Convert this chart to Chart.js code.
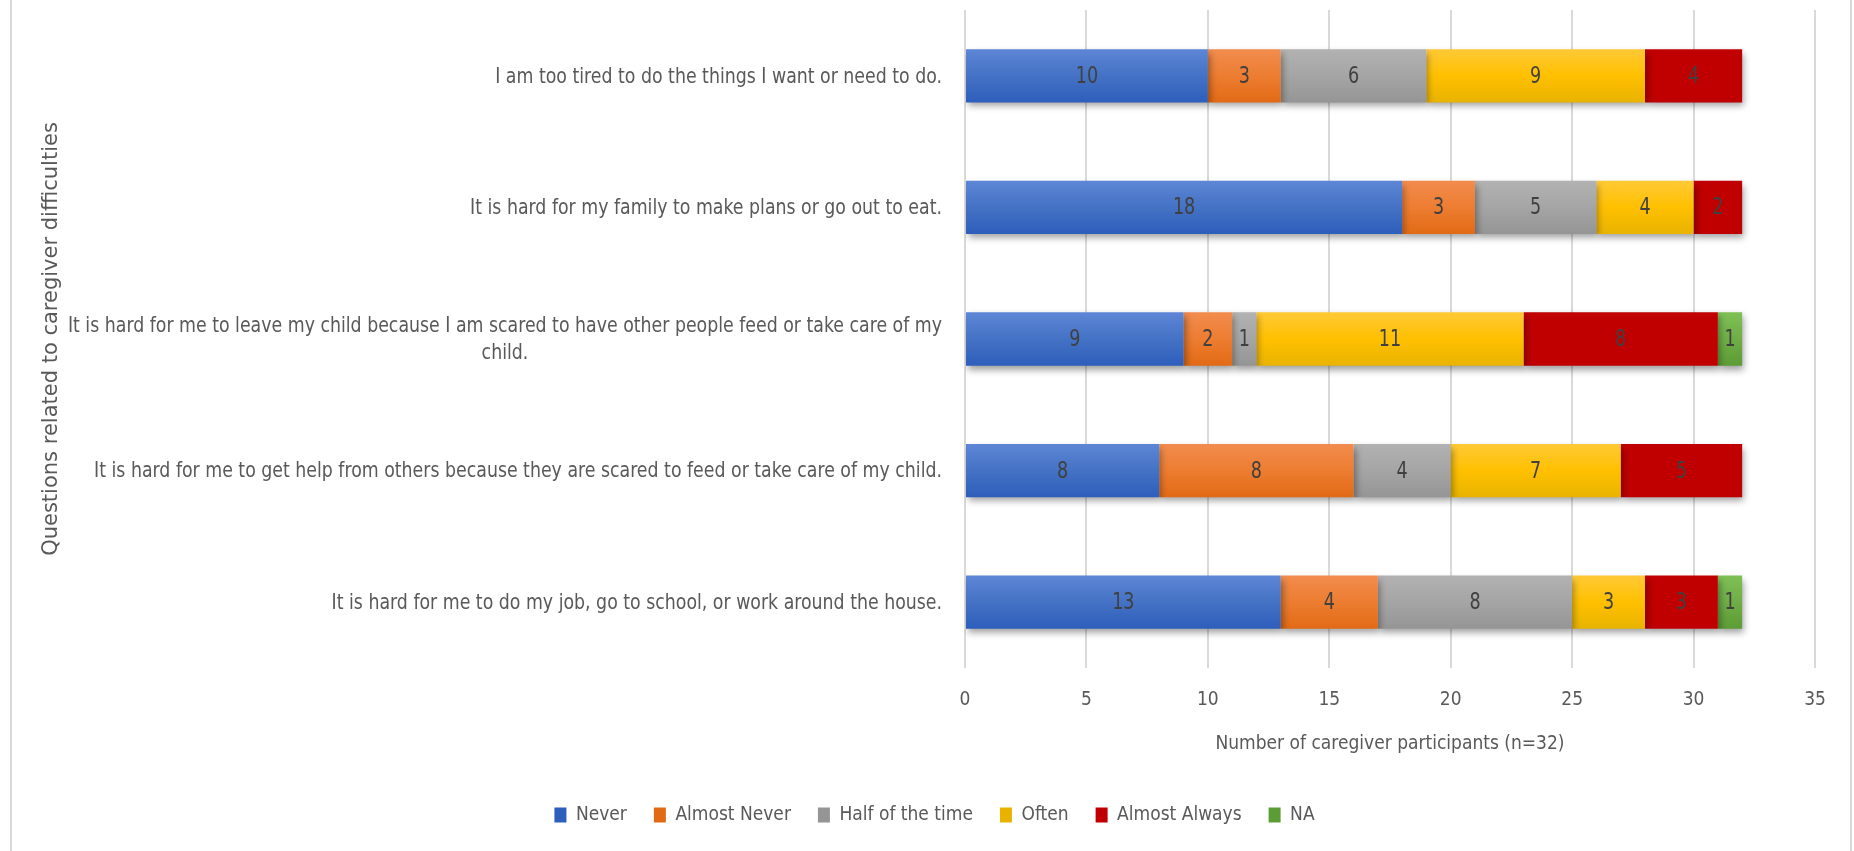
<!DOCTYPE html>
<html><head><meta charset="utf-8">
<script src="https://cdn.jsdelivr.net/npm/chart.js@4.4.1/dist/chart.umd.min.js"></script>
<style>
html,body{margin:0;padding:0;background:#fff;overflow:hidden}
#wrap{position:relative;width:1854px;height:851px}
#frame{position:absolute;left:10px;top:0;width:1842px;height:851px;border-left:2px solid #d9d9d9;border-right:2px solid #d9d9d9;box-sizing:border-box;pointer-events:none}
canvas{position:absolute;left:0;top:0}
</style></head><body>
<div id="wrap"><canvas id="c" width="1854" height="851"></canvas><div id="frame"></div></div>
<script>
const categories = [
  ["I am too tired to do the things I want or need to do."],
  ["It is hard for my family to make plans or go out to eat."],
  ["It is hard for me to leave my child because I am scared to have other people feed or take care of my", "child."],
  ["It is hard for me to get help from others because they are scared to feed or take care of my child."],
  ["It is hard for me to do my job, go to school, or work around the house."]
];
const seriesNames = ["Never", "Almost Never", "Half of the time", "Often", "Almost Always", "NA"];
const never        = [10, 18, 9, 8, 13];
const almostNever  = [3, 3, 2, 8, 4];
const halfTime     = [6, 5, 1, 4, 8];
const often        = [9, 4, 11, 7, 3];
const almostAlways = [4, 2, 8, 5, 3];
const notApplicable = [null, null, 1, null, 1];
const xTicks = [0, 5, 10, 15, 20, 25, 30, 35];
const xTitle = "Number of caregiver participants (n=32)";
const yTitle = "Questions related to caregiver difficulties";

const NARROW = "'Liberation Sans Narrow', 'DejaVu Sans Condensed', 'Arial Narrow', sans-serif";
const BAR_PCT = 0.405;
const TEXT = '#595959';

function grad(top, bottom, solid) {
  return function (ctx) {
    const chart = ctx.chart;
    const y = chart.scales && chart.scales.y;
    if (ctx.type !== 'data' || !y || !chart.chartArea) return solid;
    const c = y.getPixelForValue(ctx.dataIndex);
    const step = Math.abs(y.getPixelForValue(1) - y.getPixelForValue(0));
    const h = step * BAR_PCT / 2;
    if (!isFinite(c) || !isFinite(h) || h <= 0) return solid;
    const g = chart.ctx.createLinearGradient(0, c - h, 0, c + h);
    g.addColorStop(0, top);
    g.addColorStop(0.5, solid);
    g.addColorStop(1, bottom);
    return g;
  };
}

const seriesValues = [never, almostNever, halfTime, often, almostAlways, notApplicable];
const seriesStyles = [
  ['#5E86D6', '#2E5EBC', '#4472C4'],
  ['#F28C4E', '#E26A15', '#ED7D31'],
  ['#B2B2B2', '#959595', '#A5A5A5'],
  ['#FFC936', '#E8B300', '#FFC000'],
  ['#C00000', '#C00000', '#C00000'],
  ['#7EC056', '#5C9C35', '#70AD47']
];

const datasets = seriesNames.map((name, i) => ({
  label: name,
  data: seriesValues[i],
  backgroundColor: grad(seriesStyles[i][0], seriesStyles[i][1], seriesStyles[i][2]),
  borderWidth: 0,
  barPercentage: BAR_PCT,
  categoryPercentage: 1.0
}));

const shadowAndLabels = {
  id: 'shadowAndLabels',
  afterLayout(chart) {
    if (chart.legend) { chart.legend.left += 12; chart.legend.right += 12; }
  },
  beforeDatasetsDraw(chart) {
    const c = chart.ctx;
    c.save();
    c.shadowColor = 'rgba(0,0,0,0.38)';
    c.shadowBlur = 7;
    c.shadowOffsetX = 2;
    c.shadowOffsetY = 4;
  },
  afterDatasetsDraw(chart) {
    const c = chart.ctx;
    c.restore();
    c.font = "23px " + NARROW;
    c.fillStyle = '#404040';
    c.textAlign = 'center';
    c.textBaseline = 'middle';
    chart.data.datasets.forEach((ds, di) => {
      const meta = chart.getDatasetMeta(di);
      meta.data.forEach((bar, i) => {
        const v = ds.data[i];
        if (v === null || v === undefined || v === 0) return;
        c.save();
        c.translate((bar.x + bar.base) / 2, bar.y + 1);
        c.scale(0.85, 1);
        c.fillText(String(v), 0, 0);
        c.restore();
      });
    });
  },
  afterDraw(chart) {
    const c = chart.ctx;
    const y = chart.scales.y;
    const right = chart.chartArea.left - 23;
    const lh = 27;
    const sx = 0.877;
    c.save();
    c.font = "22px " + NARROW;
    c.fillStyle = TEXT;
    c.textBaseline = 'middle';
    c.textAlign = 'center';
    categories.forEach((lines, i) => {
      const cy = y.getPixelForTick(i);
      const widest = Math.max(...lines.map(l => c.measureText(l).width));
      const y0 = cy - (lines.length - 1) * lh / 2;
      c.save();
      c.translate(right, 0);
      c.scale(sx, 1);
      lines.forEach((l, k) => c.fillText(l, -widest / 2, y0 + k * lh + 1));
      c.restore();
    });
    c.restore();
  }
};

new Chart(document.getElementById('c'), {
  type: 'bar',
  data: { labels: categories.map(l => l.join(' ')), datasets },
  options: {
    indexAxis: 'y',
    responsive: false,
    animation: false,
    devicePixelRatio: 1,
    layout: { padding: { left: 30, right: 39, top: 10, bottom: 16.5 } },
    scales: {
      x: {
        stacked: true,
        min: 0, max: 35,
        afterBuildTicks(scale) { scale.ticks = xTicks.map(v => ({ value: v })); },
        grid: { color: '#d9d9d9', lineWidth: 2, drawTicks: false },
        border: { display: false },
        ticks: { color: TEXT, font: { family: NARROW, size: 19 }, padding: 21 },
        title: { display: true, text: xTitle, color: TEXT, font: { family: NARROW, size: 19 }, padding: { top: 0, bottom: 22.9 } }
      },
      y: {
        stacked: true,
        grid: { display: false, drawTicks: false },
        border: { display: false },
        ticks: { display: false },
        afterFit(scale) { scale.width = 935; },
        title: { display: true, text: yTitle, color: TEXT, font: { family: "'DejaVu Sans', sans-serif", size: 21 }, padding: { top: 9.4, bottom: 0 } }
      }
    },
    plugins: {
      legend: {
        position: 'bottom',
        labels: { color: TEXT, font: { family: NARROW, size: 19 }, boxWidth: 12, boxHeight: 15, padding: 27 }
      },
      tooltip: { enabled: false }
    }
  },
  plugins: [shadowAndLabels]
});
</script>
</body></html>
